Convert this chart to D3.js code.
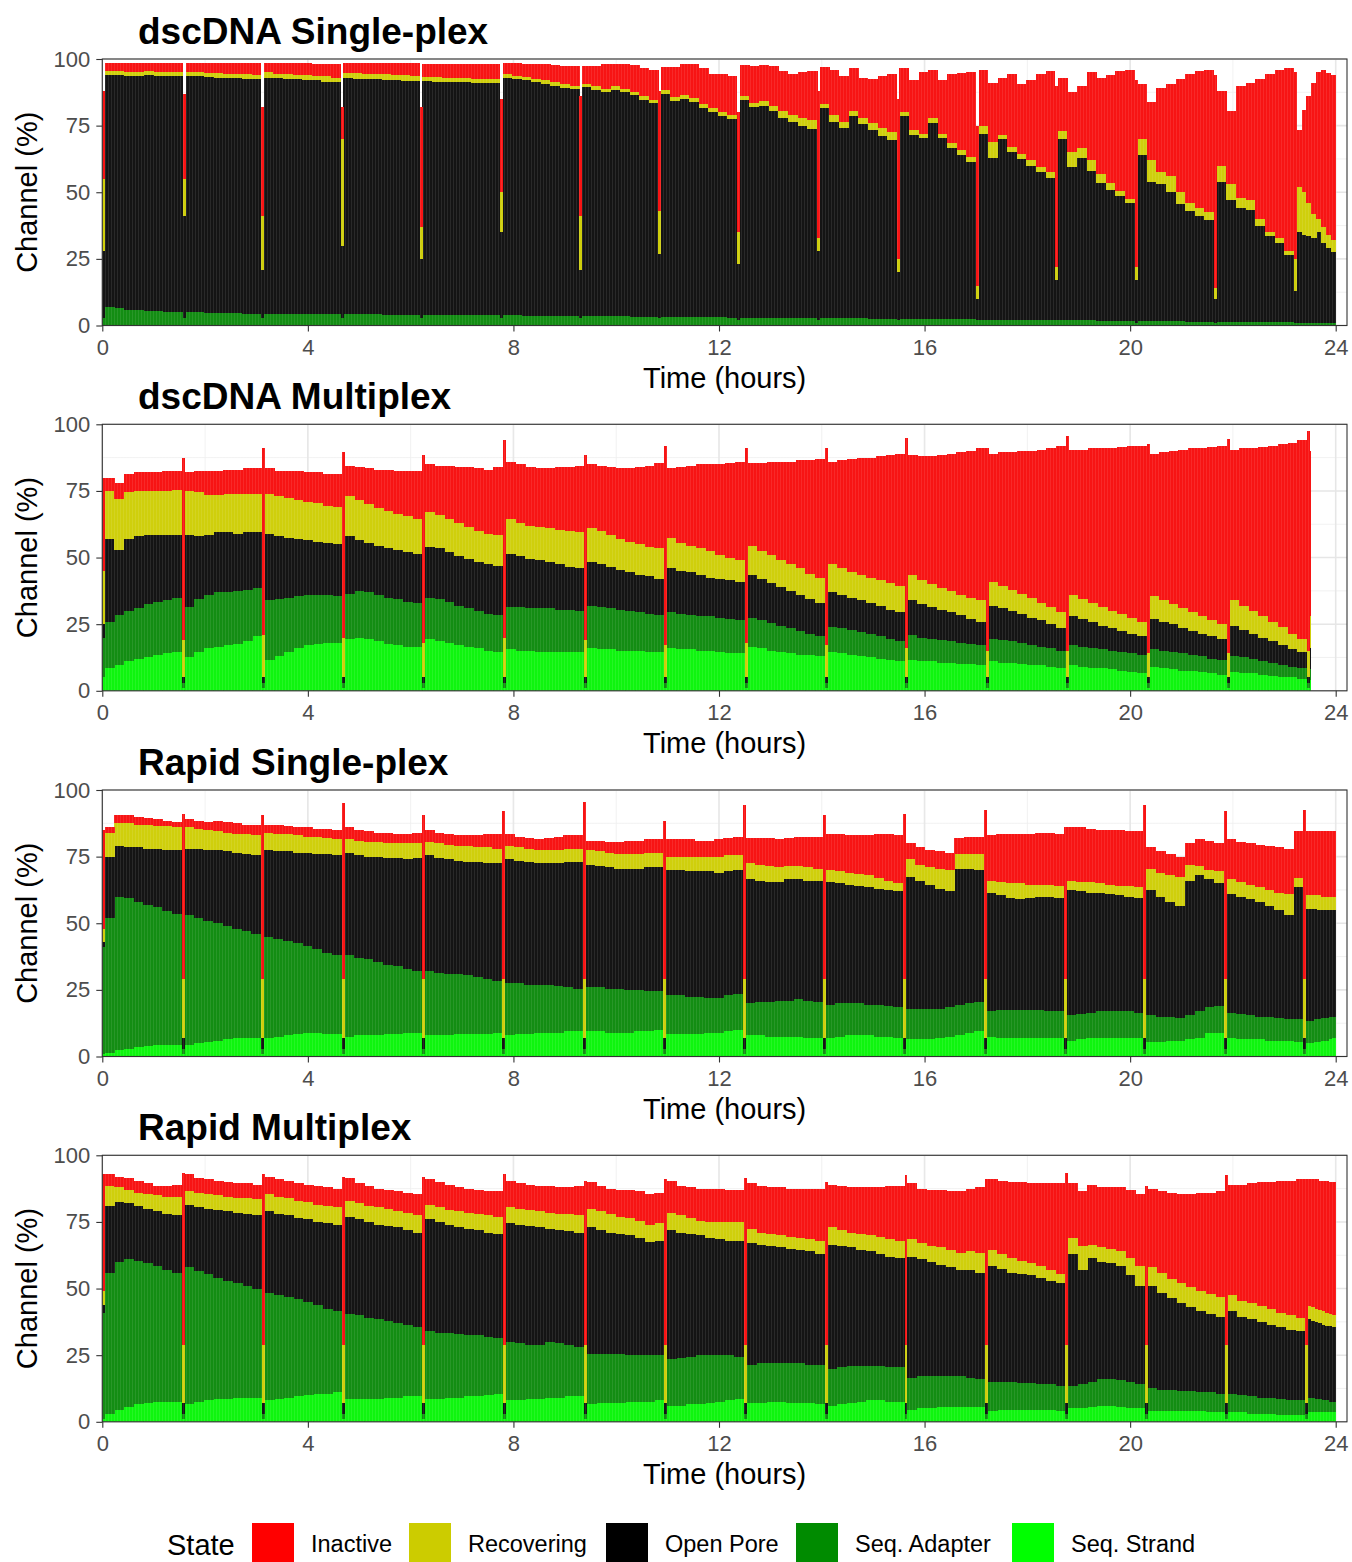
<!DOCTYPE html>
<html>
<head>
<meta charset="utf-8">
<script src="https://cdn.jsdelivr.net/npm/d3@7"></script>
<style>
  html, body { margin: 0; padding: 0; background: #ffffff; }
  svg { display: block; font-family: "Liberation Sans", Arial, Helvetica, sans-serif; }
</style>
</head>
<body>
<svg id="chart" width="1352" height="1562"></svg>
<script>
// ---------------------------------------------------------------------------
// Channel states, stacked bottom -> top
const states = ["Seq. Strand", "Seq. Adapter", "Open Pore", "Recovering", "Inactive"];
const legendStates = ["Inactive", "Recovering", "Open Pore", "Seq. Adapter", "Seq. Strand"];
const xTickValues = [0, 4, 8, 12, 16, 20, 24];
const yTickValues = [0, 25, 50, 75, 100];
const panelTitles = ["dscDNA Single-plex", "dscDNA Multiplex", "Rapid Single-plex", "Rapid Multiplex"];

// Each run is split by mux scans; every scan gets one reading, then each
// interval between scans holds 8 readings (% of channels in each state).

// ---- dscDNA Single-plex ----------------------------------------------------
const dsSingleScanStart = [0, 1.57, 3.09, 4.64, 6.18, 7.74, 9.28, 10.82, 12.35, 13.91, 15.46, 17.0, 18.54, 20.09, 21.63, 23.19];
const dsSingleEnd = 24.0;
const dsSingleInactive = [
  3,3,3.5,3.5,3,3.5,3.5,3.5,
  3.5,3.5,3.7,3.9,4,4.1,4.3,4.5,
  3.5,4,4,4.5,4.5,4.5,4.5,5,
  3.7,3.7,4,4,4.2,4.5,4.5,4.7,
  5,5.1,5.3,5.3,5.5,5.7,5.8,5.9,
  4.3,4.7,5.1,5.6,6,6.5,7,7.2,
  6.7,7.7,9.5,8.5,9.2,9.9,10.5,11.2,
  8.5,11.2,11.7,12.8,13.2,13,14.1,14.8,
  11.7,14,13.4,14.7,15,15.5,17,18.3,
  14,17,17,16,15,16.5,19.5,22,
  16.5,18.9,23,18.3,20.2,26.2,29,31.7,
  21,22,21.5,27.5,26,30,35,38,
  20,22.5,23.5,33,36,40.5,45,48.5,
  20.5,22,31.5,34.5,42.5,48.5,51.5,53.5,
  28,27.5,42,44,52.5,59.5,63,68.5,
  21.3,30.8,40,48.9,55,59,60.6,62];
const dsSingleRecovering = [
  1.5,1.5,1.5,1.5,1.5,1.5,1.5,1.5,
  1.5,1.5,1.6,1.6,1.5,1.6,1.7,1.5,
  2,1.5,2,1.5,2,1.5,2,1.5,
  2,2.2,2.1,2.1,2.1,2,2.2,2,
  1.7,1.7,1.7,1.7,1.6,1.6,1.5,1.4,
  1.2,1.2,1.2,1.2,1.3,1.3,1.2,1.4,
  1.3,1.3,1.3,1.3,1.3,1.3,1.3,1.3,
  1.5,1.5,1.5,1.5,1.5,1.5,1.7,1.7,
  1.3,1.5,1.8,2,2.5,2.8,3,3.4,
  1.5,2.5,2.5,2,2.5,2.7,2.8,3,
  1.5,1.8,1.5,1.7,1.7,1.8,1.8,1.8,
  3,6,1.5,2,2,2,2,2,
  3,5.5,3.5,4,3.5,2.5,2,1.5,
  6,8,4.5,6,4.5,3,3,3,
  6,6,4,3.5,2.5,1.5,2,1.5,
  17,16,12.5,9,5,6,5,4.5];
const dsSingleOpenPore = [
  87,87.5,87.5,87.5,88.5,88,88.5,88.5,
  88.5,88.5,88.4,88.2,88.4,88.2,88,88.1,
  88.5,88.5,88.1,88.1,87.7,87.7,87.3,87.3,
  88.5,88.3,88.2,88.2,88.1,87.9,87.8,87.8,
  87.6,87.5,87.3,87.4,87.3,87.1,87.2,87.2,
  89.2,88.8,88.3,87.7,87.1,86.4,85.8,85.1,
  86,85,84.1,85.1,84.1,83.2,81.4,80.1,
  83.7,81,81.8,80.5,78.6,76.9,75.4,74.3,
  81.7,79,79.5,77.6,75.1,73.3,72.2,71,
  78.7,73.7,71.3,75.8,72.8,70.7,68.6,66.9,
  76,69,68,73.6,67.9,64.1,61.7,59.2,
  69.8,60.8,67.9,62.9,60.4,58,55.5,53.5,
  68,57.6,61.1,56.1,51.7,49.2,46.7,44.3,
  62.3,52.3,51.4,48.4,43.9,41.5,39.5,38,
  52.6,45.6,42.6,42.2,36.2,32.2,29.8,25.3,
  33.9,32.9,32.4,32,34,30,28,26.5];
const dsSingleAdapter = [
  7,6.5,6,6,5.5,5.5,5,5,
  5,5,4.8,4.8,4.6,4.6,4.5,4.4,
  4.5,4.5,4.4,4.4,4.3,4.3,4.2,4.2,
  4.3,4.3,4.2,4.2,4.1,4.1,4,4,
  4,4,4,3.9,3.9,3.9,3.8,3.8,
  3.8,3.8,3.7,3.7,3.6,3.6,3.5,3.5,
  3.5,3.5,3.4,3.4,3.4,3.3,3.3,3.3,
  3.3,3.3,3.2,3.2,3.2,3.1,3.1,3,
  3,3,3,2.9,2.9,2.9,2.8,2.8,
  2.8,2.8,2.7,2.7,2.7,2.6,2.6,2.6,
  2.5,2.5,2.5,2.4,2.4,2.4,2.3,2.3,
  2.2,2.2,2.1,2.1,2.1,2,2,2,
  2,1.9,1.9,1.9,1.8,1.8,1.8,1.7,
  1.7,1.7,1.6,1.6,1.6,1.5,1.5,1.5,
  1.4,1.4,1.4,1.3,1.3,1.3,1.2,1.2,
  1.1,1.1,1.1,1,1,1,1,1];
const dsSingleScanInactive   = [33, 32, 41, 12, 45, 35, 45, 45, 45, 55, 60, 60, 68, 70, 80, 70];
const dsSingleScanRecovering = [27, 14, 20, 40, 12, 15, 20, 16, 12, 5, 5, 5, 5, 5, 4, 12];
const dsSingleScanOpenPore   = [25, 38, 18, 27, 22, 32, 18, 24, 21, 26, 18, 8, 15, 16, 9, 12];
const dsSingleScanAdapter    = [3, 3, 3, 3, 3, 3, 3, 3, 2, 2, 2, 2, 2, 1, 1, 1];

// ---- dscDNA Multiplex ------------------------------------------------------
const dsMultiScanStart = [0, 1.545, 3.11, 4.67, 6.23, 7.8, 9.38, 10.93, 12.5, 14.06, 15.62, 17.19, 18.75, 20.32, 21.88, 23.44];
const dsMultiEnd = 23.5;
const dsMultiInactive = [
  5,6,7,7,7,7,7.5,7,
  7,8,9,9,9,9,9.5,9.5,
  9.5,9.5,10,11,11,11.5,12,12.5,
  11.5,12.5,13.5,14.5,15.5,16,17,18,
  18,18.5,20,21,22.5,23.5,24,25.5,
  21.5,22,22,22,22.5,23.5,24,25,
  24,24.5,25.5,26.5,27.5,29,30.5,32,
  26,28.5,30,31.5,32.5,34,35.5,37,
  31,33,35,37,38.5,40.5,42.5,44.5,
  38.5,40.5,42.5,44,45,46.5,48,49.5,
  45,46.5,48,50,51.5,53.5,55,57,
  48,50,51.5,53.5,55,57.5,59.5,62.5,
  54.5,56,58,59.5,61,62.5,64.5,66,
  53.5,55.5,57.5,59.5,61.5,63,65,67,
  56.5,59,61,63.5,66,68.5,71.5,74.5,
  60,60,61,61,61,62,62,62];
const dsMultiRecovering = [
  18,19,17.5,17,16.5,16.5,16.5,17,
  16.5,16.5,15,14,14.5,15,14.5,14.5,
  15,15,15,14.5,14.5,14.5,14,14,
  15,15,14.5,14,14,13.5,13.5,13,
  13,12.5,12.5,12.5,12,11.5,11.5,11.5,
  13,12.5,12.5,12.5,12.5,13,13.5,13.5,
  12.5,12.5,12,11.5,11.5,11.5,11,11.5,
  11.5,10.5,10,10,10,9,8.5,8,
  11,10.5,10.5,10,10,10,9.5,9.5,
  10.5,10,9.5,9.5,9.5,9.5,10,10,
  9.5,9,8.5,8,8,7.5,8,8,
  9,8.5,8,7.5,7.5,6.5,6.5,6,
  8,7.5,7,7,6.5,6.5,6,5.5,
  8.5,8,7.5,7.5,7,6.5,6,5.5,
  9.5,9,8.5,8,7.5,7,6,5,
  14,14,13,13,13,12,12,12];
const dsMultiOpenPore = [
  31,24.5,27,27,26,25,24.5,23.5,
  27,23.5,22.5,22.5,22.5,21.5,21.5,21,
  25,23.5,22.5,21.5,20.5,20,19.5,19.5,
  21.5,19,18.5,18.5,18.5,18.5,18.5,18.5,
  19,19,18.5,18.5,18.5,18.5,18.5,18.5,
  20,19,18.5,18,17.5,17,16,16,
  16.5,16,15.5,15,14.5,14,14,13.5,
  16.5,16,16,15.5,14.5,14.5,14.5,14.5,
  16,15.5,15,14.5,14,13.5,13,12.5,
  13,12.5,12,12,11.5,11.5,11,11,
  13,12.5,12,11.5,11,10.5,9.5,9,
  12.5,12,11.5,11,10.5,10,9,8.5,
  11,10.5,10,9,8.5,8,7.5,7,
  11.5,11,10.5,9.5,9,8.5,8.5,8,
  11.5,10.5,9.5,9,8,7.5,6.5,6,
  8,8,8,8,8,8,8,8];
const dsMultiAdapter = [
  17.5,19,19,19,20,20,20,20.5,
  19,20,20,20.5,20,20,19.5,18,
  22.5,21.5,20.5,19.5,19,18.5,18,17.5,
  17,17.5,17.5,17.5,17.5,17.5,17,16.5,
  15.5,16,15.5,15,14.5,14,14,14,
  16,16.5,16,16.5,16.5,16,16,15.5,
  16,16,15.5,15.5,15,14.5,14.5,14,
  13.5,13.5,13,13,13,13,13,12.5,
  11,10.5,10.5,10,9.5,9,8,7.5,
  9.5,9.5,9.5,9,9,8.5,8,7.5,
  9.5,9,8.5,8.5,8,8,7.5,7.5,
  8.5,8.5,8,8,7.5,7,7,6.5,
  7.5,7.5,7.5,7,7,7,7,7,
  6.5,6.5,6.5,6.5,6,6,5.5,5.5,
  6,6,5.5,5,5,4.5,4,4,
  4,4,4,4,4,4,4,4];
const dsMultiStrand = [
  8.5,9.5,11,12,12.5,13.5,14,14.5,
  12.5,14.5,16,16.5,17,17.5,18.5,20.5,
  11.5,13,14.5,16,17,17.5,18,18,
  19.5,20,19.5,18.5,17.5,17,16.5,16.5,
  19.5,18.5,18,17,16.5,16,15,14.5,
  15.5,15,15,14.5,14.5,14.5,14.5,14.5,
  16,15.5,15.5,15,15,15,14.5,14.5,
  16,15.5,15.5,15,15,14.5,14,14,
  16.5,16,15,14.5,14,13.5,13.5,13,
  14.5,14,13.5,13,12.5,12,11.5,11,
  11.5,11,11,10.5,10.5,10,10,9.5,
  11,10.5,10.5,10,9.5,9.5,9,8.5,
  9.5,9,8.5,8.5,8,7.5,7,6.5,
  9,8.5,8,7.5,7.5,7,6.5,6,
  7,6.5,6.5,6,5.5,5,5,4.5,
  4,4,4,4,4,4,4,4];
const dsMultiScanInactive   = [35, 68.5, 70, 69.5, 70.5, 74, 69.5, 75, 73, 74, 79, 76, 80.5, 78.5, 80.5, 82.5];
const dsMultiScanRecovering = [20, 14, 16, 15, 13, 15, 14, 12, 13, 12, 11, 10, 10, 9, 9, 10];
const dsMultiScanOpenPore   = [5, 2, 2, 2, 2, 2, 2, 2, 2, 2, 2, 2, 2, 2, 2, 2];
const dsMultiScanAdapter    = [15, 2, 2, 2, 2, 2, 2, 2, 2, 2, 2, 2, 2, 2, 2, 2];
const dsMultiScanStrand     = [5, 1, 1, 1, 1, 1, 1, 1, 1, 1, 1, 1, 1, 1, 1, 1];

// ---- Rapid Single-plex -----------------------------------------------------
const rapSingleScanStart = [0, 1.545, 3.09, 4.66, 6.22, 7.78, 9.35, 10.91, 12.46, 14.02, 15.58, 17.15, 18.71, 20.26, 21.82, 23.37];
const rapSingleEnd = 24.0;
const rapSingleInactive = [
  2,3,3,3,2.5,2.5,2,2,
  3,3,3,4,4,4,3.5,4,
  3,3.5,3,3,3.5,3,3.5,3.5,
  4.5,4,4,3.5,4,3.5,3.5,4,
  4.5,4,4,4,4,4.5,5,5.5,
  4.5,4,4,4,4.5,5,5,5,
  3.5,4,4,4.5,5,5,5,5,
  6.5,6.5,6.5,6,6,6.5,6.5,7,
  9.5,10,10.5,10.5,10.5,11,11.5,12,
  13.5,14,14,14.5,15,16.5,17.5,18,
  6,6.5,6.5,6.5,6.5,6,6.5,6.5,
  17,18,18.5,18.5,19,19.5,19.5,19.5,
  20,20.5,20,20,20.5,21,20.5,21,
  8,8,8,7.5,8,10,11,10.5,
  15,15,15.5,16,16.5,17,17,17.5,
  24,24,24,24,24.5,24.5,24.5,24.5];
const rapSingleRecovering = [
  9,8.5,9,8.5,9,8.5,9,8.5,
  8,7.5,7.5,7,7,7,7.5,7.5,
  6.5,6.5,6.5,6.5,6,6.5,6,6,
  5,5.5,5.5,5.5,5.5,5.5,6,5.5,
  5,5.5,5.5,5.5,6,5.5,6,5.5,
  5,5,5,5,5,5,5,5,
  5.5,5.5,5.5,5.5,5.5,5.5,5.5,5.5,
  5,5,5.5,5.5,5.5,6,6,5.5,
  6,6,6,5.5,5,5,5,4.5,
  4.5,4.5,4.5,4.5,4.5,4,3.5,3,
  6.5,6,6.5,7.5,8,5.5,5.5,6,
  4.5,5,5.5,6,5,4.5,4.5,4.5,
  3.5,3.5,4,3.5,3.5,3.5,4,4,
  8,9,10,11,6,3.5,3.5,4.5,
  5.5,5.5,5.5,5.5,6,6.5,8,3.5,
  5,5,5,5.5,5,5,5,5];
const rapSingleOpenPore = [
  23,19,19,20.5,21,22,23,24,
  25,26,26.5,27.5,28,28.5,29,29.5,
  32.5,33,33.5,34,35,35.5,37,37.5,
  38.5,38.5,38.5,39.5,40,40.5,41,42.5,
  43.5,43,43,42.5,42.5,43,43.5,44,
  46.5,46,46,45.5,45.5,46,47,47.5,
  46,45.5,45.5,45,45.5,45.5,46.5,46.5,
  47,47,47,47,47.5,47,46.5,46.5,
  46.5,45.5,45,44.5,45.5,45,45,45.5,
  46,45,44.5,44,44,43.5,43.5,43.5,
  49.5,48,46.5,45,43.5,51,50.5,49.5,
  44.5,43,42,41.5,42,42.5,43,42.5,
  47,46,45,44.5,44,43.5,43,43,
  47,45,43,42,50.5,51,48,46,
  44.5,44,43.5,43,41.5,40.5,39,49.5,
  42,42,41.5,41,40.5,40.5,40,40];
const rapSingleAdapter = [
  50.5,57.5,56.5,54.5,53,51.5,50,49,
  48.5,47,45.5,44,42.5,41,40,39,
  38,36.5,35.5,34,32.5,31.5,30.5,29.5,
  30.5,29,28.5,27.5,26,25.5,24,23,
  24,23.5,23,22.5,22,21.5,20.5,19.5,
  19.5,19,18.5,18,18,17.5,16.5,16,
  16.5,16.5,16.5,16.5,16,15.5,15,14.5,
  14.5,14.5,14,14,13,13,13.5,13.5,
  12,12.5,13,13.5,13.5,14,14,13.5,
  12.5,12.5,12,12,11.5,12,11.5,11.5,
  11.5,11.5,11.5,11,11,11.5,11,11,
  9.5,10.5,10.5,10.5,10.5,10.5,10,10,
  9.5,9.5,9.5,10,10,10,10,9.5,
  10,9.5,9,8.5,9,10,9.5,10,
  9.5,9.5,9,8.5,9,8.5,8,8.5,
  8.5,8.5,8.5,8.5,8.5,8.5,8.5,8];
const rapSingleStrand = [
  1.5,2.5,3,3.5,4,4.5,4.5,4.5,
  4.5,5,5.5,6,6.5,7,7,7,
  7,7.5,8,8.5,9,9,8.5,8.5,
  7.5,8,8,8,8.5,8.5,9,9,
  8,8,8,8.5,8.5,8.5,8.5,9,
  8,8.5,8.5,9,9,9,9.5,9.5,
  9.5,9.5,9,9,9,9.5,9.5,10,
  8.5,8.5,8.5,8.5,9,9,9.5,10,
  8,8,7.5,7.5,7.5,7.5,7,7,
  7,7.5,8,8,8,7.5,7.5,7,
  6.5,6.5,6.5,7,7.5,8,9,9.5,
  7.5,7,7,7,7,7,7,7,
  6,6.5,7,7,7,7,7,7,
  5.5,5.5,6,6,6.5,7,9,9,
  7,6.5,6.5,6.5,6,6,6,5.5,
  5,5,5.5,5.5,6,6,6.5,7];
const rapSingleScanInactive   = [37, 62, 61.5, 66, 61.5, 63, 66.5, 59.5, 65.5, 61.5, 62, 63.5, 57, 65.5, 63, 63.5];
const rapSingleScanRecovering = [5, 22, 22, 22, 22, 22, 22, 22, 22, 22, 22, 22, 22, 22, 22, 22];
const rapSingleScanOpenPore   = [2, 4, 4, 4, 4, 4, 4, 4, 4, 4, 4, 4, 4, 4, 4, 4];
const rapSingleScanAdapter    = [40, 2, 2, 2, 2, 2, 2, 2, 2, 2, 2, 2, 2, 2, 2, 2];
const rapSingleScanStrand     = [1, 1, 1, 1, 1, 1, 1, 1, 1, 1, 1, 1, 1, 1, 1, 1];

// ---- Rapid Multiplex -------------------------------------------------------
const rapMultiScanStart = [0, 1.545, 3.11, 4.67, 6.23, 7.8, 9.37, 10.93, 12.49, 14.06, 15.61, 17.18, 18.74, 20.29, 21.85, 23.41];
const rapMultiEnd = 24.0;
const rapMultiInactive = [
  4.5,4,4.5,4.5,4,3.5,4,4.5,
  6.5,5.5,5.5,5.5,5.5,5.5,5.5,5.5,
  6.5,6.5,6.5,6.5,6.5,7,7,7,
  8.5,7.5,7.5,7,7,7.5,7.5,8,
  9.5,9.5,9.5,9,9,9,9,9.5,
  10,9.5,9.5,9.5,10,10,10,11,
  10,9.5,9.5,10,10.5,11,11.5,11.5,
  12,11,11.5,12,12.5,12.5,12,12,
  17,17.5,17.5,18,18,18.5,19,19.5,
  16,16.5,17,17.5,18,18.5,20,20.5,
  21,20.5,21,21.5,22,23,23.5,24.5,
  26.5,27.5,28.5,29.5,30,31,32.5,34,
  20.5,20.5,22.5,22.5,23,24,25.5,27,
  29.5,30.5,32.5,33.5,35,37,38,39.5,
  41.5,43.5,45,46.5,47.5,49.5,50.5,52,
  47.5,48,48.5,48.5,49,49.5,49.5,50];
const rapMultiRecovering = [
  7.5,5.5,5,5,5.5,6,6.5,7,
  5,5.5,5.5,5.5,5.5,5.5,6,6,
  6.5,6.5,6.5,6.5,6.5,6.5,6.5,6.5,
  6,6,6,6.5,6.5,6,6.5,6.5,
  5.5,5.5,5.5,6,6,6,6.5,6.5,
  6,6,6,6,6,6,6.5,6.5,
  7,7,7,6.5,6.5,6.5,6.5,6.5,
  6.5,6.5,6,5.5,6,6.5,7,7,
  5.5,4.5,4.5,4.5,4.5,4.5,4.5,5,
  6.5,6,5.5,6,6,6.5,6.5,6.5,
  6.5,6,6,6.5,6.5,6.5,7,7.5,
  6,5.5,5.5,5,4.5,4.5,4,3.5,
  6,9,5,5.5,5.5,5.5,6.5,7.5,
  7,7.5,7,7.5,7.5,7.5,7.5,7.5,
  6,6,6,6,6,5.5,5.5,5,
  5,5,5,5,5,5,4.5,4.5];
const rapMultiOpenPore = [
  25,22.5,21,20.5,20.5,20.5,21,21.5,
  23.5,24,24.5,25.5,26,26.5,27,27.5,
  30.5,30.5,30.5,30.5,31,31,32,32.5,
  36.5,36,36,35.5,35.5,36,35.5,35.5,
  42,41.5,40.5,40,40,39.5,39,39,
  44.5,44.5,44.5,44,42.5,42.5,42.5,43,
  47.5,46.5,45.5,45,45,44,42.5,43,
  48.5,47,46,45,44,43.5,43,43.5,
  45.5,44.5,44,43.5,43,42.5,42.5,41.5,
  46.5,45.5,44.5,43.5,43,42,41.5,41,
  45.5,44,43,42,41,40,40.5,40,
  43.5,42.5,41,41,40.5,40,39,38.5,
  49.5,43,46.5,44,43.5,43,40,37,
  38.5,36.5,34.5,33,31.5,30.5,29.5,29,
  31,29.5,29,28.5,27.5,27,26.5,26,
  29.5,29,29,28.5,28.5,28,28.5,28];
const rapMultiAdapter = [
  53,55.5,55.5,54,52.5,51,49.5,48.5,
  51.5,49,47.5,45.5,44.5,43,42,41,
  40.5,39,38,36.5,35,33.5,32,30.5,
  32,31.5,30.5,30,29,28,27,26,
  25.5,25,24.5,24,23,23,22,21,
  22,21.5,20.5,20.5,21,20.5,19.5,18.5,
  19,18.5,18.5,18.5,17.5,17.5,17.5,17,
  17.5,18,18,18.5,18,17.5,17,16,
  14.5,15,14.5,14.5,15,15,14.5,15,
  14,14,14,13.5,13,13,13,13,
  12,12,12,11.5,11.5,11.5,11,10.5,
  11,10.5,10.5,10,10,9.5,9.5,9.5,
  8.5,9,9.5,10,10,10,10,9,
  8.5,8,8,7.5,7.5,7,7.5,7,
  7,6.5,6.5,6,6,6,5.5,5.5,
  5.5,5.5,5,5,4.5,4.5,4,4];
const rapMultiStrand = [
  3,4.5,5.5,6.5,7,7.5,7.5,7.5,
  6.5,7.5,8,8.5,8.5,9,9,9,
  8,8.5,9,9.5,10,10.5,10.5,11,
  8.5,8.5,8.5,8.5,9,9,9.5,9.5,
  8.5,8.5,9,9,9.5,9.5,10,10.5,
  8,8,8.5,8.5,9,9,9.5,9.5,
  6.5,7,7,7,7.5,7.5,7.5,8,
  6,6,6.5,6.5,7,7.5,8,8.5,
  7,7,7.5,7.5,7,7,7,6.5,
  6,6.5,7,7.5,8,8,7.5,7.5,
  4.5,5,5,5.5,5.5,5.5,5.5,5.5,
  4,4.5,4.5,4.5,4.5,4.5,4.5,4,
  5,5,5.5,6,6,5.5,5,5,
  4,4,4,4,4,4,3.5,3.5,
  3.5,3.5,3,3,3,2.5,2.5,2.5,
  3.5,3.5,3.5,3.5,3.5,3.5,3.5,3.5];
const rapMultiScanInactive   = [44, 64.5, 64, 63, 63, 64, 61.5, 62, 62.5, 61, 63.5, 62, 64.5, 59.5, 63.5, 62];
const rapMultiScanRecovering = [5, 22, 22, 22, 22, 22, 22, 22, 22, 22, 22, 22, 22, 22, 22, 22];
const rapMultiScanOpenPore   = [3, 4, 4, 4, 4, 4, 4, 4, 4, 4, 4, 4, 4, 4, 4, 4];
const rapMultiScanAdapter    = [40, 2, 2, 2, 2, 2, 2, 2, 2, 2, 2, 2, 2, 2, 2, 2];
const rapMultiScanStrand     = [1, 1, 1, 1, 1, 1, 1, 1, 1, 1, 1, 1, 1, 1, 1, 1];

// ---------------------------------------------------------------------------
// Styling
const barColor = {
  "Inactive": "#f71414",
  "Recovering": "#cfcf0c",
  "Open Pore": "#141414",
  "Seq. Adapter": "#138d13",
  "Seq. Strand": "#0ff50f"
};
const keyColor = {
  "Inactive": "#ff0000",
  "Recovering": "#cccc00",
  "Open Pore": "#000000",
  "Seq. Adapter": "#008b00",
  "Seq. Strand": "#00ff00"
};
const FONT = '"Liberation Sans", Arial, Helvetica, sans-serif';
const binsPerInterval = 8;
const scanWidth = 0.05;

const runs = [
  { title: panelTitles[0], scanStart: dsSingleScanStart, end: dsSingleEnd,
    bins: { "Inactive": dsSingleInactive, "Recovering": dsSingleRecovering, "Open Pore": dsSingleOpenPore, "Seq. Adapter": dsSingleAdapter },
    scan: { "Inactive": dsSingleScanInactive, "Recovering": dsSingleScanRecovering, "Open Pore": dsSingleScanOpenPore, "Seq. Adapter": dsSingleScanAdapter } },
  { title: panelTitles[1], scanStart: dsMultiScanStart, end: dsMultiEnd,
    bins: { "Inactive": dsMultiInactive, "Recovering": dsMultiRecovering, "Open Pore": dsMultiOpenPore, "Seq. Adapter": dsMultiAdapter, "Seq. Strand": dsMultiStrand },
    scan: { "Inactive": dsMultiScanInactive, "Recovering": dsMultiScanRecovering, "Open Pore": dsMultiScanOpenPore, "Seq. Adapter": dsMultiScanAdapter, "Seq. Strand": dsMultiScanStrand } },
  { title: panelTitles[2], scanStart: rapSingleScanStart, end: rapSingleEnd,
    bins: { "Inactive": rapSingleInactive, "Recovering": rapSingleRecovering, "Open Pore": rapSingleOpenPore, "Seq. Adapter": rapSingleAdapter, "Seq. Strand": rapSingleStrand },
    scan: { "Inactive": rapSingleScanInactive, "Recovering": rapSingleScanRecovering, "Open Pore": rapSingleScanOpenPore, "Seq. Adapter": rapSingleScanAdapter, "Seq. Strand": rapSingleScanStrand } },
  { title: panelTitles[3], scanStart: rapMultiScanStart, end: rapMultiEnd,
    bins: { "Inactive": rapMultiInactive, "Recovering": rapMultiRecovering, "Open Pore": rapMultiOpenPore, "Seq. Adapter": rapMultiAdapter, "Seq. Strand": rapMultiStrand },
    scan: { "Inactive": rapMultiScanInactive, "Recovering": rapMultiScanRecovering, "Open Pore": rapMultiScanOpenPore, "Seq. Adapter": rapMultiScanAdapter, "Seq. Strand": rapMultiScanStrand } }
];

// Turn one run into time-binned rows: [scan reading, 8 interval readings] per interval
function buildRows(run) {
  const rows = [];
  const n = run.scanStart.length;
  for (let k = 0; k < n; k++) {
    const s0 = run.scanStart[k];
    const s1 = s0 + scanWidth;
    const stop = k < n - 1 ? run.scanStart[k + 1] : run.end;
    const scanRow = { t0: s0, t1: s1 };
    states.forEach(st => { scanRow[st] = run.scan[st] ? run.scan[st][k] : 0; });
    rows.push(scanRow);
    const step = (stop - s1) / binsPerInterval;
    for (let i = 0; i < binsPerInterval; i++) {
      const r = { t0: s1 + i * step, t1: s1 + (i + 1) * step };
      states.forEach(st => { r[st] = run.bins[st] ? run.bins[st][k * binsPerInterval + i] : 0; });
      rows.push(r);
    }
  }
  return rows;
}

// ---------------------------------------------------------------------------
const svg = d3.select("#chart");
const plotLeft = 102.3, plotRight = 1347;
const panelTops = [59, 424.3, 790, 1155.3];
const panelH = 266.5;

const x = d3.scaleLinear().domain([0, 24.22]).range([plotLeft, plotRight]);

const defs = svg.append("defs");
const pat = defs.append("pattern").attr("id", "barStripes")
  .attr("patternUnits", "userSpaceOnUse").attr("width", 3).attr("height", 20);
pat.append("rect").attr("x", 0).attr("y", 0).attr("width", 1).attr("height", 20)
  .attr("fill", "#ffffff").attr("fill-opacity", 0.09);

const stackGen = d3.stack().keys(states);

runs.forEach((run, pi) => {
  const top = panelTops[pi];
  const y = d3.scaleLinear().domain([0, 100]).range([top + panelH, top]);
  const g = svg.append("g");

  defs.append("clipPath").attr("id", "clip" + pi)
    .append("rect").attr("x", plotLeft).attr("y", top).attr("width", plotRight - plotLeft).attr("height", panelH);

  // grid
  const grid = g.append("g");
  const minorX = d3.range(2, 24.5, 4);
  const minorY = [12.5, 37.5, 62.5, 87.5];
  grid.selectAll(".mx").data(minorX).join("line")
    .attr("x1", d => x(d)).attr("x2", d => x(d)).attr("y1", top).attr("y2", top + panelH)
    .attr("stroke", "#ededed").attr("stroke-width", 0.8);
  grid.selectAll(".my").data(minorY).join("line")
    .attr("x1", plotLeft).attr("x2", plotRight).attr("y1", d => y(d)).attr("y2", d => y(d))
    .attr("stroke", "#ededed").attr("stroke-width", 0.8);
  grid.selectAll(".Mx").data(xTickValues).join("line")
    .attr("x1", d => x(d)).attr("x2", d => x(d)).attr("y1", top).attr("y2", top + panelH)
    .attr("stroke", "#e6e6e6").attr("stroke-width", 1.6);
  grid.selectAll(".My").data(yTickValues).join("line")
    .attr("x1", plotLeft).attr("x2", plotRight).attr("y1", d => y(d)).attr("y2", d => y(d))
    .attr("stroke", "#e6e6e6").attr("stroke-width", 1.6);

  // stacked bars
  const rows = buildRows(run);
  const layers = stackGen(rows);
  const bars = g.append("g").attr("clip-path", `url(#clip${pi})`).attr("shape-rendering", "crispEdges");
  layers.forEach(layer => {
    bars.append("g").attr("fill", barColor[layer.key])
      .selectAll("rect").data(layer.filter(d => d[1] - d[0] > 0)).join("rect")
      .attr("x", d => x(d.data.t0))
      .attr("width", d => Math.max(0.6, x(d.data.t1) - x(d.data.t0) + 0.4))
      .attr("y", d => y(d[1]))
      .attr("height", d => y(d[0]) - y(d[1]));
  });
  // fine vertical striping of the thin bars
  g.append("rect").attr("clip-path", `url(#clip${pi})`)
    .attr("x", plotLeft).attr("y", top).attr("width", x(run.end) - plotLeft).attr("height", panelH)
    .attr("fill", "url(#barStripes)");

  // panel border
  g.append("rect").attr("x", plotLeft).attr("y", top).attr("width", plotRight - plotLeft).attr("height", panelH)
    .attr("fill", "none").attr("stroke", "#333333").attr("stroke-width", 1.1);

  // axes
  const xAxis = d3.axisBottom(x).tickValues(xTickValues).tickSize(6).tickPadding(8).tickFormat(d3.format("d"));
  const yAxis = d3.axisLeft(y).tickValues(yTickValues).tickSize(6).tickPadding(6).tickFormat(d3.format("d"));
  const styleAxis = a => {
    a.select(".domain").remove();
    a.attr("font-family", null).attr("font-size", null);
    a.selectAll(".tick line").attr("stroke", "#333333").attr("stroke-width", 1.1);
    a.selectAll(".tick text").attr("fill", "#4d4d4d").attr("font-family", FONT).attr("font-size", 22);
  };
  g.append("g").attr("transform", `translate(0,${top + panelH})`).call(xAxis).call(styleAxis);
  g.append("g").attr("transform", `translate(${plotLeft},0)`).call(yAxis).call(styleAxis);

  // titles
  g.append("text").attr("x", 138).attr("y", top - 15.5)
    .attr("font-family", FONT).attr("font-size", 37).attr("font-weight", "bold").attr("fill", "#000")
    .text(run.title);
  g.append("text").attr("x", (plotLeft + plotRight) / 2).attr("y", top + panelH + 62.5)
    .attr("text-anchor", "middle").attr("font-family", FONT).attr("font-size", 29).attr("fill", "#000")
    .text("Time (hours)");
  g.append("text").attr("transform", `translate(37,${top + panelH / 2}) rotate(-90)`)
    .attr("text-anchor", "middle").attr("font-family", FONT).attr("font-size", 29).attr("fill", "#000")
    .text("Channel (%)");
});

// legend
const legend = svg.append("g");
legend.append("text").attr("x", 167).attr("y", 1555)
  .attr("font-family", FONT).attr("font-size", 29).attr("fill", "#000").text("State");
const keyX = [252, 409, 606, 796, 1012];
legendStates.forEach((st, i) => {
  legend.append("rect").attr("x", keyX[i]).attr("y", 1523).attr("width", 42).attr("height", 42)
    .attr("fill", keyColor[st]);
  legend.append("text").attr("x", keyX[i] + 59).attr("y", 1552)
    .attr("font-family", FONT).attr("font-size", 23.5).attr("fill", "#000").text(st);
});
</script>
</body>
</html>
